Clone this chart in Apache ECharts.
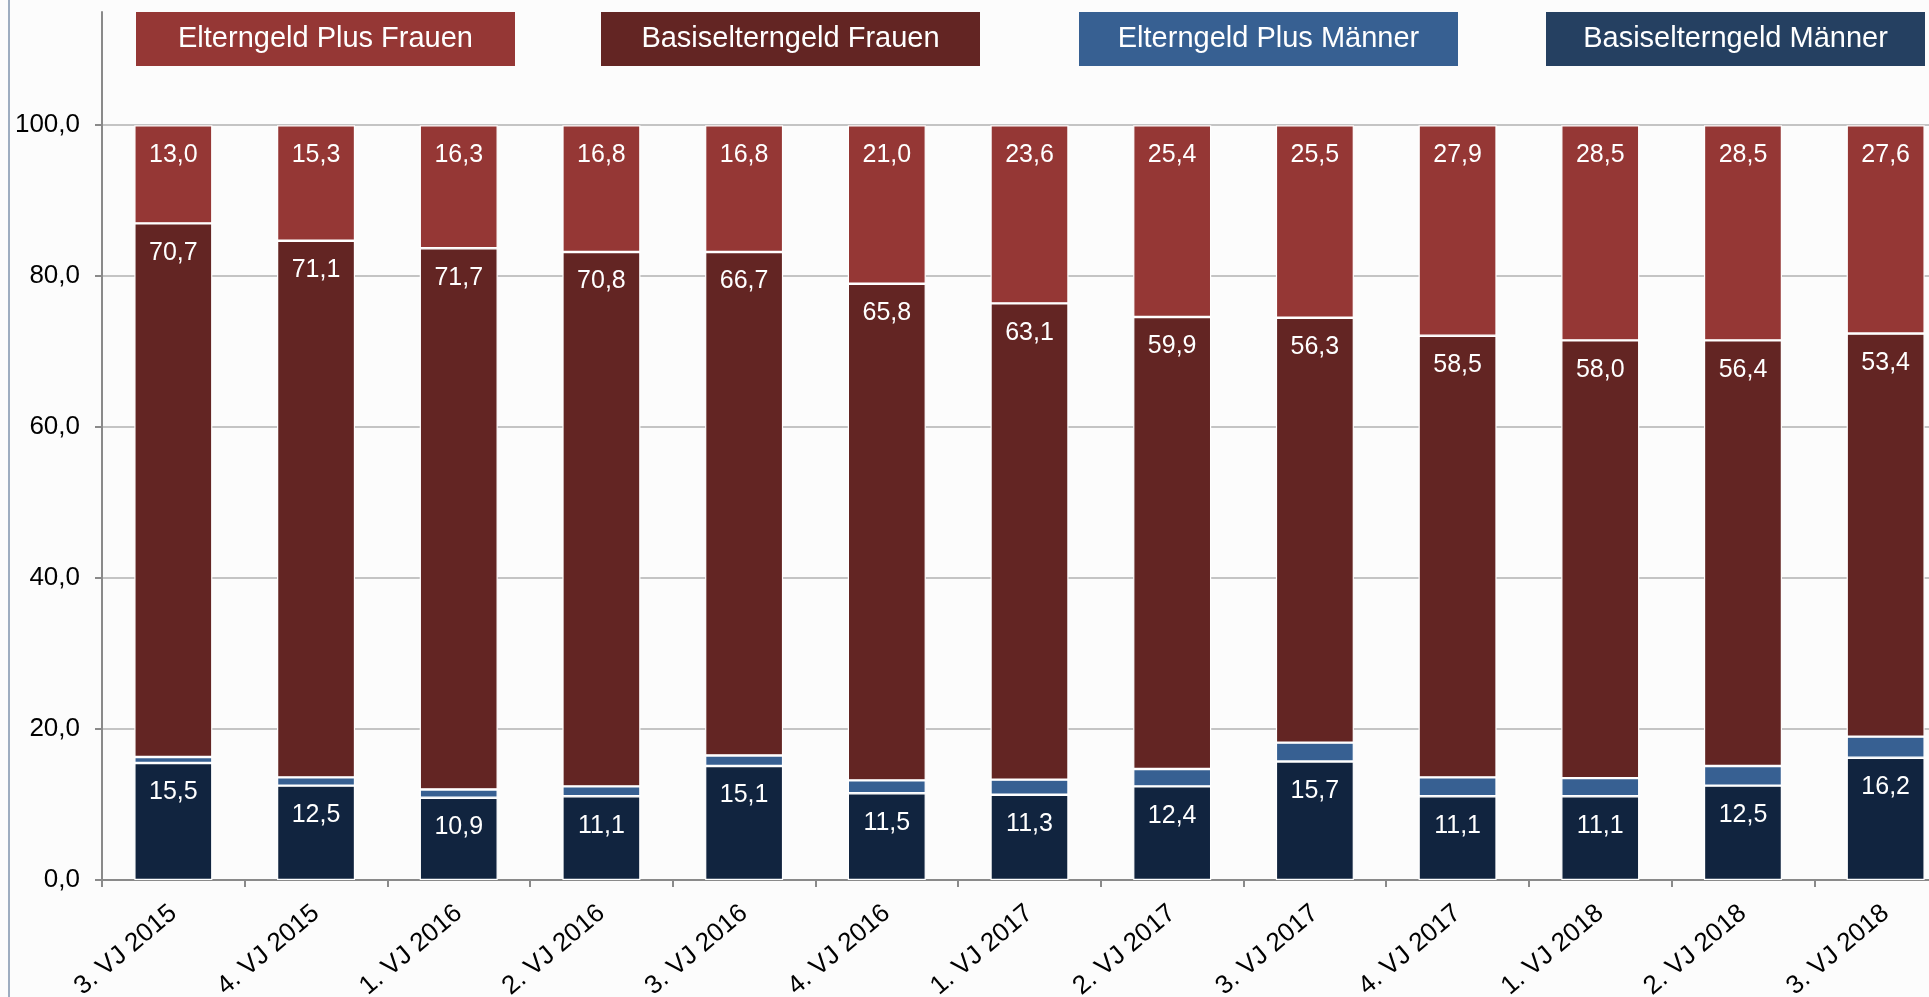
<!DOCTYPE html>
<html>
<head>
<meta charset="utf-8">
<script src="https://cdn.jsdelivr.net/npm/echarts@6/dist/echarts.min.js"></script>
<style>
html,body{margin:0;padding:0;background:#fcfcfc;}
#chart{width:1929px;height:997px;}
</style>
</head>
<body>
<div id="chart"></div>
<script>
const categories = ['3. VJ 2015','4. VJ 2015','1. VJ 2016','2. VJ 2016','3. VJ 2016','4. VJ 2016','1. VJ 2017','2. VJ 2017','3. VJ 2017','4. VJ 2017','1. VJ 2018','2. VJ 2018','3. VJ 2018'];
const basisMaenner = [15.5,12.5,10.9,11.1,15.1,11.5,11.3,12.4,15.7,11.1,11.1,12.5,16.2];
const plusMaenner  = [0.8,1.1,1.1,1.3,1.4,1.7,2.0,2.3,2.5,2.5,2.4,2.6,2.8];
const basisFrauen  = [70.7,71.1,71.7,70.8,66.7,65.8,63.1,59.9,56.3,58.5,58.0,56.4,53.4];
const plusFrauen   = [13.0,15.3,16.3,16.8,16.8,21.0,23.6,25.4,25.5,27.9,28.5,28.5,27.6];
const yTicks = [0,20,40,60,80,100];

const FONT = 'Liberation Sans, Arial, sans-serif';
const fmt = v => v.toFixed(1).replace('.', ',');

const legendDefs = [
  {name:'Elterngeld Plus Frauen', left:135, bg:'#953735'},
  {name:'Basiselterngeld Frauen', left:600, bg:'#632523'},
  {name:'Elterngeld Plus Männer', left:1078, bg:'#376092'},
  {name:'Basiselterngeld Männer', left:1545, bg:'#254061'}
];

const legends = legendDefs.map(d => ({
  data:[d.name],
  left: d.left - 5,
  top: 12,
  padding: 0,
  itemWidth: 0,
  itemHeight: 0,
  icon: 'rect',
  itemStyle:{opacity:0},
  selectedMode:false,
  formatter: '{b|{name}}',
  textStyle:{
    rich:{
      b:{
        width:379, height:54, lineHeight:54, align:'center', verticalAlign:'middle',
        backgroundColor:d.bg, color:'#ffffff', fontSize:29, fontFamily:FONT
      }
    }
  }
}));

function barSeries(name, data, color, showLabel) {
  return {
    name, type:'bar', stack:'total', data, barWidth:78,
    itemStyle:{color, borderColor:'#ffffff', borderWidth:1.2},
    label:{
      show:showLabel, position:'insideTop', distance:17,
      color:'#ffffff', fontSize:25, fontFamily:FONT,
      formatter: p => fmt(p.value)
    },
    emphasis:{disabled:true}
  };
}

const chart = echarts.init(document.getElementById('chart'), null, {renderer:'canvas'});
chart.setOption({
  backgroundColor:'#fcfcfc',
  animation:false,
  textStyle:{fontFamily:FONT},
  legend: legends,
  graphic:[{
    type:'line', shape:{x1:9, y1:0, x2:9, y2:997},
    style:{stroke:'#7f93ad', lineWidth:1.5}
  }],
  grid:{left:102, width:1855, top:12, bottom:117, containLabel:false, outerBoundsMode:'none'},
  xAxis:{
    type:'category', data:categories, boundaryGap:true,
    axisLine:{lineStyle:{color:'#8a8a8a', width:2}},
    axisTick:{show:true, length:7, lineStyle:{color:'#8a8a8a', width:2}},
    axisLabel:{rotate:40, fontSize:26, color:'#000', margin:30, fontFamily:FONT}
  },
  yAxis:{
    type:'value', min:0, max:115, interval:20,
    axisLine:{show:true, lineStyle:{color:'#8a8a8a', width:2}},
    axisTick:{show:true, length:7, inside:false, customValues:yTicks, lineStyle:{color:'#8a8a8a', width:2}},
    axisLabel:{customValues:yTicks, fontSize:26, color:'#000', margin:22, fontFamily:FONT,
      formatter: v => v > 100 ? '' : fmt(v)},
    splitLine:{show:true, lineStyle:{color:['#c4c4c4','#c4c4c4','#c4c4c4','#c4c4c4','#c4c4c4','#c4c4c4','rgba(0,0,0,0)'], width:2}}
  },
  series:[
    barSeries('Basiselterngeld Männer', basisMaenner, '#11243f', true),
    barSeries('Elterngeld Plus Männer', plusMaenner, '#376092', false),
    barSeries('Basiselterngeld Frauen', basisFrauen, '#632523', true),
    barSeries('Elterngeld Plus Frauen', plusFrauen, '#953735', true)
  ]
});
</script>
</body>
</html>
